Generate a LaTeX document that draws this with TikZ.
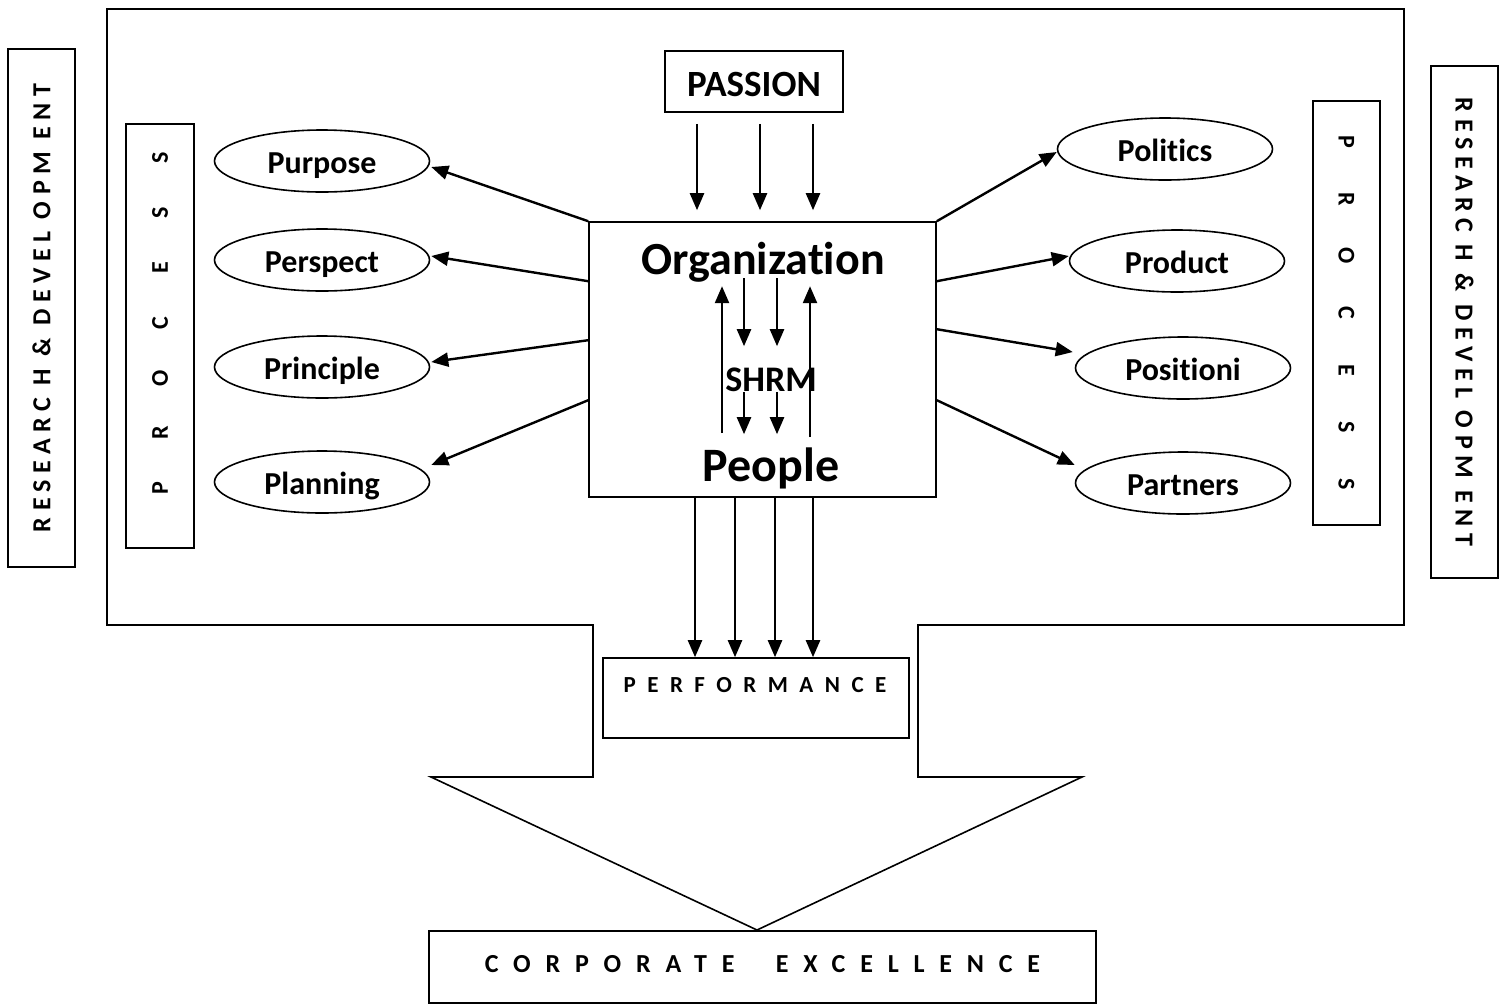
\documentclass[tikz,border=0pt]{standalone}
\usepackage{fontspec}
\setmainfont{Carlito}[Ligatures=NoCommon]
\usetikzlibrary{shapes.geometric,arrows.meta,calc}
% letters set at an even pitch, each centred in its own cell
\newcommand\pitched[2]{\foreach \ch in {#2}{\makebox[#1]{\ch}}}
\begin{document}
\begin{tikzpicture}[x=1pt,y=-1pt,
  box/.style={draw,line width=1.6pt,inner sep=0pt},
  oval/.style={ellipse,draw,line width=1.6pt,minimum width=215pt,minimum height=62pt,inner sep=0pt,
    text height=24pt,text depth=0pt,font=\fontsize{32}{36}\selectfont\bfseries},
  arr/.style={line width=2.4pt,-{Triangle[length=17pt,width=14pt]}},
  plain/.style={inner sep=0pt}]
\useasboundingbox (0,0) rectangle (1506,1005);

% outer frame merged with the block arrow pointing down
\draw[line width=1.6pt,line join=miter]
  (107,9) -- (1404,9) -- (1404,625) -- (918,625) -- (918,777) -- (1082,777)
  -- (757,930) -- (431,777) -- (593,777) -- (593,625) -- (107,625) -- cycle;

% side bands
\node[box,rotate=90,minimum width=518pt,minimum height=67pt,
      font=\fontsize{26}{30}\selectfont\bfseries] (rdl) at (41.5,308)
  {\addfontfeatures{LetterSpace=25}RESEARC H \& DEVEL OPM ENT};
\node[box,rotate=-90,minimum width=512pt,minimum height=67pt,
      font=\fontsize{26}{30}\selectfont\bfseries] (rdr) at (1464.5,322)
  {\addfontfeatures{LetterSpace=25}RESEARC H \& DEVEL OPM ENT};
\node[box,rotate=90,minimum width=424pt,minimum height=68pt,
      font=\fontsize{24}{28}\selectfont\bfseries] (procl) at (160,336)
  {\hspace*{26pt}\pitched{55pt}{P,R,O,C,E,S,S}};
\node[box,rotate=-90,minimum width=424pt,minimum height=67pt,
      font=\fontsize{24}{28}\selectfont\bfseries] (procr) at (1346.5,313)
  {\pitched{57pt}{P,R,O,C,E,S,S}};

% central blocks
\node[box,minimum width=178pt,minimum height=61pt,text height=29pt,text depth=0pt,
      font=\fontsize{37}{42}\selectfont\bfseries] (passion) at (754,81.5) {PASSION};
\node[box,minimum width=347pt,minimum height=275pt] (org) at (762.5,359.5) {};
\node[plain,font=\fontsize{46}{52}\selectfont\bfseries] (orgtxt) at (763,262) {Organization};
\node[plain,font=\fontsize{36}{40}\selectfont\bfseries] (shrm) at (771,380) {SHRM};
\node[plain,font=\fontsize{48}{54}\selectfont\bfseries] (people) at (771,468) {People};

\node[box,minimum width=306pt,minimum height=80pt] (perf) at (756,698) {};
\node[plain,font=\fontsize{23}{28}\selectfont\bfseries] (perftxt) at (755,685)
  {\addfontfeatures{LetterSpace=50}PERFORMANCE};
\node[box,minimum width=667pt,minimum height=72pt,
      font=\fontsize{26}{30}\selectfont\bfseries] (corp) at (762.5,967)
  {\raisebox{6pt}{\addfontfeatures{LetterSpace=57}CORPORATE\ \ EXCELLENCE}};

% left ovals
\node[oval] (purpose)   at (322,161) {Purpose};
\node[oval] (perspect)  at (322,260) {Perspect};
\node[oval] (principle) at (322,367) {Principle};
\node[oval] (planning)  at (322,482) {Planning};
% right ovals
\node[oval] (politics)  at (1165,149) {Politics};
\node[oval] (product)   at (1177,261) {Product};
\node[oval] (position)  at (1183,368) {Positioni};
\node[oval] (partners)  at (1183,483) {Partners};

% organization to left ovals
\draw[arr] (org.north west) -- ($(purpose.east)+(1,6)$);
\draw[arr] ($(org.north west)+(0,60)$) -- ($(perspect.east)+(1,-4)$);
\draw[arr] ($(org.north west)+(0,119)$) -- ($(principle.east)+(1,-5)$);
\draw[arr] ($(org.north west)+(0,179)$) -- ($(planning.east)+(1,-17)$);
% organization to right ovals
\draw[arr] (org.north east) -- ($(politics.west)+(0,3)$);
\draw[arr] ($(org.north east)+(0,60)$) -- ($(product.west)+(0,-5)$);
\draw[arr] ($(org.north east)+(0,108)$) -- ($(position.west)+(-2,-16)$);
\draw[arr] ($(org.north east)+(0,179)$) -- ($(partners.west)+(0,-18)$);

% passion feeding the organization
\foreach \dx in {-57,6,59}
  \draw[arr] ($(passion.south)+(\dx,11)$) -- ($(passion.south |- org.north)+(\dx,-11)$);

% exchanges inside the organization
\draw[arr] ($(org.north)+(-40.5,212)$) -- ($(org.north)+(-40.5,65)$);
\draw[arr] ($(org.north)+(47.5,216)$) -- ($(org.north)+(47.5,65)$);
\foreach \dx in {-18.5,14.5}{
  \draw[arr] ($(org.north)+(\dx,57)$) -- ($(org.north)+(\dx,125)$);
  \draw[arr] ($(org.north)+(\dx,171)$) -- ($(org.north)+(\dx,213)$);
}

% people delivering performance
\foreach \dx in {-67.5,-27.5,12.5,50.5}
  \draw[arr] ($(org.south)+(\dx,0)$) -- ($(org.south |- perf.north)+(\dx,0)$);
\end{tikzpicture}
\end{document}
